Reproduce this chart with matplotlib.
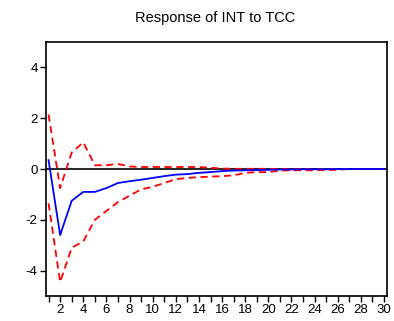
import numpy as np
import matplotlib
matplotlib.use("Agg")
import matplotlib.pyplot as plt

plt.rcParams['font.family'] = ['Liberation Sans', 'DejaVu Sans']
plt.rcParams['axes.unicode_minus'] = False

periods = list(range(1, 31))
response = [0.35, -2.6, -1.25, -0.9, -0.9, -0.75, -0.55, -0.48, -0.42, -0.35,
            -0.28, -0.22, -0.2, -0.15, -0.12, -0.08, -0.06, -0.05, -0.04, -0.03,
            -0.02, -0.02, -0.01, -0.01, -0.01, 0.0, 0.0, 0.0, 0.0, 0.0]
upper = [2.15, -0.75, 0.65, 1.05, 0.15, 0.15, 0.2, 0.1, 0.08, 0.08,
         0.08, 0.08, 0.08, 0.08, 0.05, 0.02, 0.01, 0.01, 0.01, 0.01,
         0.0, 0.0, 0.0, 0.0, 0.0, 0.0, 0.0, 0.0, 0.0, 0.0]
lower = [-1.35, -4.45, -3.1, -2.85, -2.0, -1.65, -1.3, -1.05, -0.8, -0.7,
         -0.55, -0.4, -0.35, -0.32, -0.3, -0.28, -0.25, -0.15, -0.12, -0.12,
         -0.06, -0.05, -0.05, -0.05, -0.04, -0.03, 0.0, 0.0, 0.0, 0.0]
yticks = [-4, -2, 0, 2, 4]

fig = plt.figure(figsize=(3.94, 3.21), dpi=100)
ax = fig.add_axes([0.1168, 0.0779, 0.8655, 0.791])

ax.axhline(0, color='black', lw=1.2, zorder=1)
ax.plot(periods, response, color='#0000ff', lw=1.3, zorder=3)
ax.plot(periods, upper, color='#ff0000', lw=1.3, ls=(0, (4, 2.5)), zorder=2)
ax.plot(periods, lower, color='#ff0000', lw=1.3, ls=(0, (4, 2.5)), zorder=2)

ax.set_xlim(0.78, 30.26)
ax.set_ylim(-5, 5)
ax.set_xticks(periods)
ax.set_xticklabels([str(p) if p % 2 == 0 else '' for p in periods])
ax.set_yticks(yticks)
ax.tick_params(axis='both', direction='out', length=4, width=1, labelsize=9.5, pad=2)
for s in ax.spines.values():
    s.set_linewidth(1.2)

fig.text(0.545, 0.944, 'Response of INT to TCC', ha='center', va='center', fontsize=10.5)

fig.savefig('out.png', dpi=100)
